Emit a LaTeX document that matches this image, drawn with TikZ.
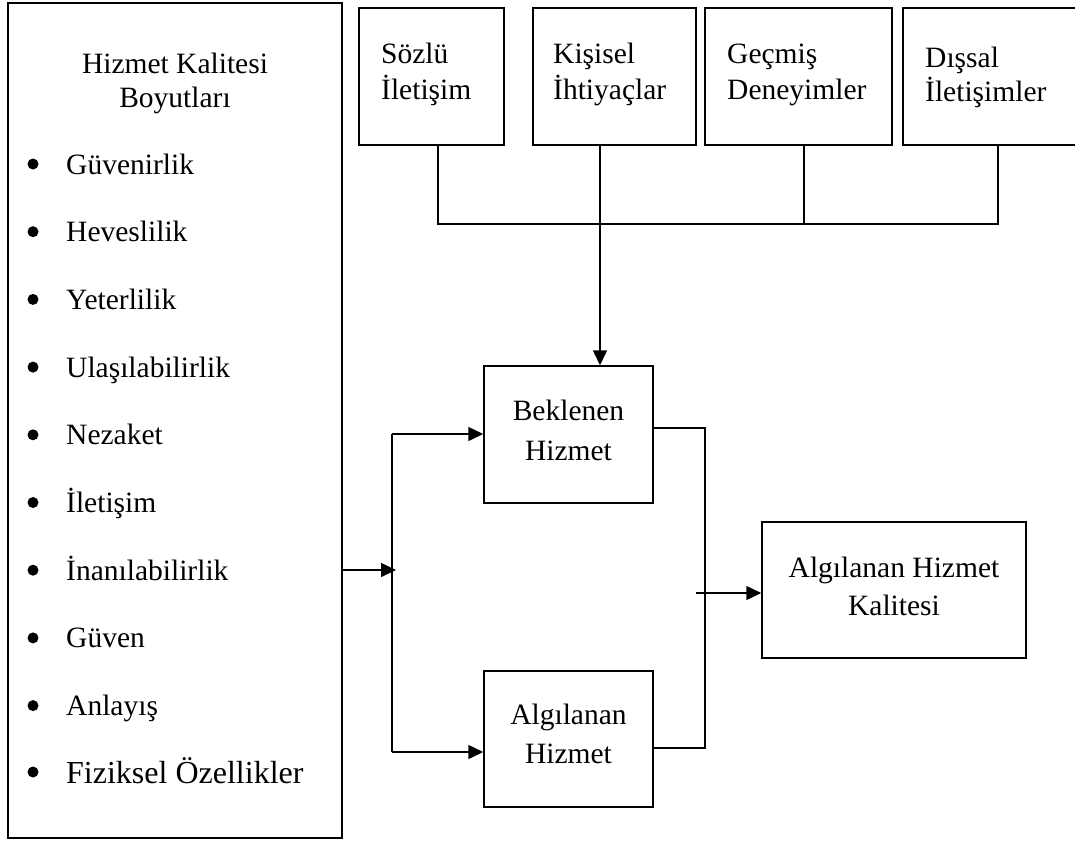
\documentclass[tikz,border=0pt]{standalone}
\usepackage{fontspec}
\setmainfont{Liberation Serif}
\usetikzlibrary{arrows.meta}
\begin{document}
\begin{tikzpicture}[x=1pt,y=-1pt,
  box/.style={draw, line width=1.5pt, inner sep=0pt},
  txt/.style={inner sep=0pt, font=\fontsize{29.5}{35}\selectfont},
  bigtxt/.style={inner sep=0pt, font=\fontsize{32}{38}\selectfont},
  conn/.style={line width=1.5pt},
  arr/.style={conn, -{Triangle[length=15pt,width=14pt]}},
  bul/.style={circle, fill, inner sep=0pt, minimum size=11pt}]
\useasboundingbox (0,0) rectangle (1075,844);

% left box
\node[box, minimum width=334pt, minimum height=835pt] (dim) at (175,420.5) {};
\node[txt, anchor=base] (dimt1) at (175,73) {Hizmet Kalitesi};
\node[txt, anchor=base] (dimt2) at (175,107) {Boyutları};
\foreach \i/\t in {0/Güvenirlik,1/Heveslilik,2/Yeterlilik,3/Ulaşılabilirlik,4/Nezaket,5/İletişim,6/İnanılabilirlik,7/Güven,8/Anlayış}{
  \node[bul] (b\i) at (33,{174+67.7*\i-10}) {};
  \node[txt, anchor=base west] (it\i) at (66,{174+67.7*\i}) {\t};
}
\node[bul] (b9) at (33,772) {};
\node[bigtxt, anchor=base west] (it9) at (66,783) {Fiziksel Özellikler};

% top boxes
\node[box, minimum width=145pt, minimum height=137pt] (s1) at (431.5,76.5) {};
\node[box, minimum width=163pt, minimum height=137pt] (s2) at (614.5,76.5) {};
\node[box, minimum width=187pt, minimum height=137pt] (s3) at (798.5,76.5) {};
\node[box, minimum width=180pt, minimum height=137pt] (s4) at (993,76.5) {};
\node[txt, anchor=base west] (s1a) at (381,63) {Sözlü};
\node[txt, anchor=base west] (s1b) at (381,99) {İletişim};
\node[txt, anchor=base west] (s2a) at (553,63) {Kişisel};
\node[txt, anchor=base west] (s2b) at (553,99) {İhtiyaçlar};
\node[txt, anchor=base west] (s3a) at (727,63) {Geçmiş};
\node[txt, anchor=base west] (s3b) at (727,99) {Deneyimler};
\node[txt, anchor=base west] (s4a) at (925,67) {Dışsal};
\node[txt, anchor=base west] (s4b) at (925,101) {İletişimler};

% middle boxes
\node[box, minimum width=169pt, minimum height=137pt] (bek) at (568.5,434.5) {};
\node[txt, anchor=base] (bekt1) at (568.5,420) {Beklenen};
\node[txt, anchor=base] (bekt2) at (568.5,460) {Hizmet};
\node[box, minimum width=169pt, minimum height=136pt] (alg) at (568.5,739) {};
\node[txt, anchor=base] (algt1) at (568.5,724) {Algılanan};
\node[txt, anchor=base] (algt2) at (568.5,763) {Hizmet};
\node[box, minimum width=264pt, minimum height=136pt] (kal) at (894,590) {};
\node[txt, anchor=base] (kalt1) at (894,577) {Algılanan Hizmet};
\node[txt, anchor=base] (kalt2) at (894,615) {Kalitesi};

% top connectors
\coordinate (j1) at (438,224);
\coordinate (j2) at (600,224);
\coordinate (j3) at (804,224);
\coordinate (j4) at (998,224);
\draw[conn] (s1.south -| j1) -- (j1) -- (j4) -- (s4.south -| j4);
\draw[conn] (s3.south -| j3) -- (j3);
\draw[arr] (s2.south -| j2) -- (bek.north -| j2);

% left split
\coordinate (st) at (392,434);
\coordinate (sb) at (392,752);
\coordinate (sm) at (396,570);
\draw[arr] (dim.east |- sm) -- (sm);
\draw[conn] (st) -- (sb);
\draw[arr] (st) -- (bek.west |- st);
\draw[arr] (sb) -- (alg.west |- sb);

% right merge
\coordinate (rt) at (705,428);
\coordinate (rb) at (705,748);
\coordinate (ra) at (696,593);
\draw[conn] (bek.east |- rt) -- (rt) -- (rb) -- (alg.east |- rb);
\draw[arr] (ra) -- (kal.west |- ra);
\end{tikzpicture}
\end{document}
